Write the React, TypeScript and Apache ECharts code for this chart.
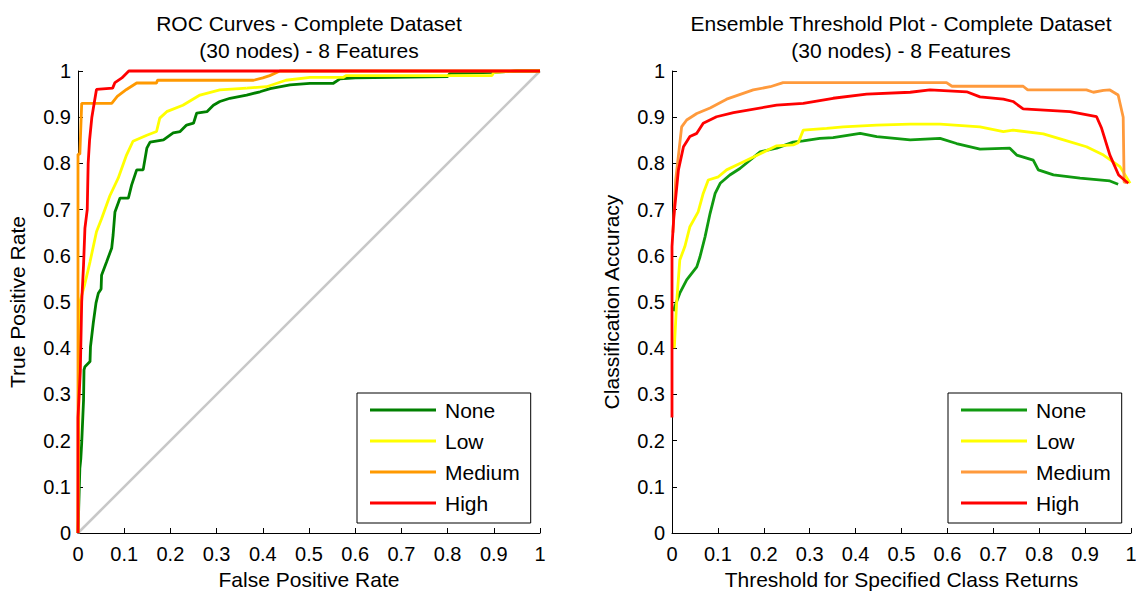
import React, { useEffect, useRef } from "react";
import * as echarts from "echarts";

const classNames = ["None", "Low", "Medium", "High"];
const tickLabels = ["0", "0.1", "0.2", "0.3", "0.4", "0.5", "0.6", "0.7", "0.8", "0.9", "1"];

const rocNone = [[0,0],[0.004,0.14],[0.006,0.16],[0.008,0.195],[0.012,0.288],[0.013,0.353],[0.015,0.36],[0.026,0.371],[0.027,0.403],[0.033,0.454],[0.039,0.498],[0.044,0.519],[0.05,0.528],[0.051,0.558],[0.062,0.587],[0.073,0.617],[0.076,0.645],[0.08,0.695],[0.091,0.725],[0.109,0.725],[0.116,0.753],[0.127,0.786],[0.141,0.786],[0.149,0.833],[0.156,0.846],[0.185,0.851],[0.206,0.866],[0.221,0.869],[0.235,0.883],[0.25,0.887],[0.257,0.909],[0.279,0.912],[0.293,0.926],[0.307,0.934],[0.329,0.941],[0.365,0.948],[0.394,0.955],[0.416,0.962],[0.459,0.97],[0.502,0.973],[0.552,0.973],[0.567,0.983],[0.6,0.985],[0.8,0.988],[0.805,0.995],[0.9,0.997],[0.95,1],[1,1]];
const rocLow = [[0,0],[0.002,0.3],[0.004,0.5],[0.015,0.54],[0.026,0.587],[0.04,0.652],[0.051,0.68],[0.069,0.73],[0.087,0.768],[0.105,0.818],[0.119,0.848],[0.149,0.861],[0.17,0.869],[0.177,0.898],[0.192,0.912],[0.227,0.926],[0.264,0.948],[0.307,0.959],[0.365,0.963],[0.408,0.966],[0.45,0.98],[0.502,0.986],[0.574,0.986],[0.58,0.99],[0.896,0.99],[0.9,0.997],[0.95,1],[1,1]];
const rocMedium = [[0,0],[0,0.82],[0.004,0.82],[0.008,0.93],[0.073,0.93],[0.085,0.945],[0.105,0.96],[0.127,0.974],[0.17,0.974],[0.172,0.98],[0.38,0.98],[0.4,0.985],[0.415,0.99],[0.437,1],[1,1]];
const rocHigh = [[0,0],[0,0.25],[0.005,0.35],[0.008,0.5],[0.012,0.58],[0.015,0.66],[0.02,0.7],[0.022,0.8],[0.025,0.85],[0.03,0.9],[0.035,0.93],[0.04,0.96],[0.075,0.963],[0.08,0.975],[0.095,0.985],[0.11,1],[1,1]];
const rocChance = [[0,0],[1,1]];

const thrNone = [[0.004,0.48],[0.006,0.49],[0.017,0.519],[0.032,0.548],[0.054,0.576],[0.061,0.598],[0.072,0.641],[0.083,0.692],[0.094,0.735],[0.105,0.757],[0.126,0.775],[0.148,0.789],[0.192,0.825],[0.228,0.833],[0.264,0.846],[0.286,0.849],[0.322,0.854],[0.351,0.856],[0.41,0.865],[0.446,0.858],[0.519,0.851],[0.584,0.854],[0.62,0.843],[0.671,0.831],[0.736,0.833],[0.751,0.818],[0.787,0.807],[0.798,0.786],[0.831,0.775],[0.889,0.768],[0.954,0.762],[0.972,0.755]];
const thrLow = [[0.005,0.4],[0.01,0.497],[0.017,0.591],[0.028,0.62],[0.039,0.663],[0.057,0.695],[0.068,0.735],[0.079,0.764],[0.101,0.771],[0.119,0.786],[0.148,0.8],[0.19,0.82],[0.228,0.838],[0.264,0.84],[0.275,0.845],[0.286,0.872],[0.337,0.876],[0.373,0.879],[0.446,0.883],[0.519,0.885],[0.584,0.885],[0.671,0.879],[0.722,0.869],[0.743,0.872],[0.809,0.864],[0.853,0.851],[0.903,0.836],[0.94,0.818],[0.976,0.793],[0.998,0.757]];
const thrMedium = [[0.002,0.65],[0.004,0.685],[0.008,0.764],[0.021,0.879],[0.032,0.894],[0.054,0.908],[0.083,0.92],[0.119,0.939],[0.177,0.959],[0.214,0.966],[0.242,0.975],[0.598,0.975],[0.61,0.967],[0.765,0.967],[0.775,0.959],[0.903,0.959],[0.918,0.954],[0.94,0.958],[0.954,0.959],[0.972,0.948],[0.983,0.9],[0.985,0.76],[0.99,0.758]];
const thrHigh = [[0,0.25],[0,0.62],[0.004,0.685],[0.014,0.786],[0.025,0.836],[0.039,0.858],[0.054,0.865],[0.068,0.887],[0.097,0.901],[0.134,0.91],[0.228,0.926],[0.286,0.93],[0.351,0.941],[0.424,0.95],[0.519,0.954],[0.562,0.959],[0.642,0.955],[0.671,0.944],[0.722,0.939],[0.743,0.934],[0.765,0.918],[0.867,0.912],[0.925,0.901],[0.936,0.876],[0.954,0.818],[0.973,0.775],[0.994,0.757]];

const leftColors = ["#008000", "#ffff00", "#ff9900", "#ff0000"];
const rightColors = ["#109a10", "#ffff00", "#ff9a3c", "#ff0000"];

const FONT = "'Liberation Sans', Arial, Helvetica, sans-serif";

export default function App() {
  const ref = useRef<HTMLDivElement>(null);
  useEffect(() => {
    if (!ref.current) return;
    const chart = echarts.init(ref.current, undefined, { renderer: "svg" });

    const mkAxis = (gi: number, isX: boolean, name: string) => ({
      type: "value",
      gridIndex: gi,
      min: 0,
      max: 1,
      interval: 0.1,
      name,
      nameLocation: "middle",
      nameGap: isX ? 36 : 50,
      nameTextStyle: { fontFamily: FONT, fontSize: 21, color: "#000" },
      axisLine: { show: true, lineStyle: { color: "#000", width: 1 } },
      axisTick: { show: true, inside: true, length: 5, lineStyle: { color: "#000" } },
      axisLabel: {
        fontFamily: FONT,
        fontSize: 20,
        color: "#000",
        margin: isX ? 11 : 7,
        formatter: (v: number) => tickLabels[Math.round(v * 10)] ?? String(v),
      },
      splitLine: { show: false },
    });

    const mkSeries = (name: string, data: number[][], color: string, gi: number) => ({
      type: "line",
      name,
      xAxisIndex: gi,
      yAxisIndex: gi,
      data,
      showSymbol: false,
      symbol: "none",
      clip: false,
      lineStyle: { color, width: 2.8 },
      itemStyle: { color },
    });

    const mkLegend = (left: number, colors: string[]) => ({
      orient: "vertical",
      left,
      top: 393,
      icon: "rect",
      itemWidth: 66,
      itemHeight: 3,
      itemGap: 9,
      padding: [6, 11, 9, 13],
      borderColor: "#000",
      borderWidth: 1,
      backgroundColor: "#fff",
      textStyle: { fontFamily: FONT, fontSize: 21, color: "#000", lineHeight: 22, padding: [0, 0, 0, 4] },
      data: classNames.map((n, i) => ({ name: n, itemStyle: { color: colors[i] } })),
      selectedMode: false,
    });

    const leftData = [rocNone, rocLow, rocMedium, rocHigh];
    const rightData = [thrNone, thrLow, thrMedium, thrHigh];

    const titleStyle = (text: string) => ({
      text,
      textAlign: "center",
      textVerticalAlign: "middle",
      font: `21px ${FONT}`,
      lineHeight: 27,
      fill: "#000",
    });

    chart.setOption({
      animation: false,
      backgroundColor: "#fff",
      grid: [
        { left: 78, top: 71, width: 462, height: 462, containLabel: false, outerBoundsMode: "none" },
        { left: 672, top: 71, width: 459, height: 462, containLabel: false, outerBoundsMode: "none" },
      ],
      xAxis: [mkAxis(0, true, "False Positive Rate"), mkAxis(1, true, "Threshold for Specified Class Returns")],
      yAxis: [mkAxis(0, false, "True Positive Rate"), mkAxis(1, false, "Classification Accuracy")],
      legend: [mkLegend(357, leftColors), mkLegend(948, rightColors)],
      graphic: [
        { type: "text", x: 309, y: 36.5, style: titleStyle("ROC Curves - Complete Dataset\n(30 nodes) - 8 Features") },
        { type: "text", x: 901, y: 36.5, style: titleStyle("Ensemble Threshold Plot - Complete Dataset\n(30 nodes) - 8 Features") },
      ],
      series: [
        {
          type: "line",
          name: "chance",
          xAxisIndex: 0,
          yAxisIndex: 0,
          data: rocChance,
          showSymbol: false,
          symbol: "none",
          lineStyle: { color: "#c8c8c8", width: 2.6 },
          clip: false,
        },
        ...classNames.map((n, i) => mkSeries(n, leftData[i], leftColors[i], 0)),
        ...classNames.map((n, i) => mkSeries(n, rightData[i], rightColors[i], 1)),
      ],
    });
    return () => chart.dispose();
  }, []);
  return (
    <div
      ref={ref}
      style={{ position: "absolute", left: 0, top: 0, width: 1136, height: 592, background: "#fff" }}
    />
  );
}
